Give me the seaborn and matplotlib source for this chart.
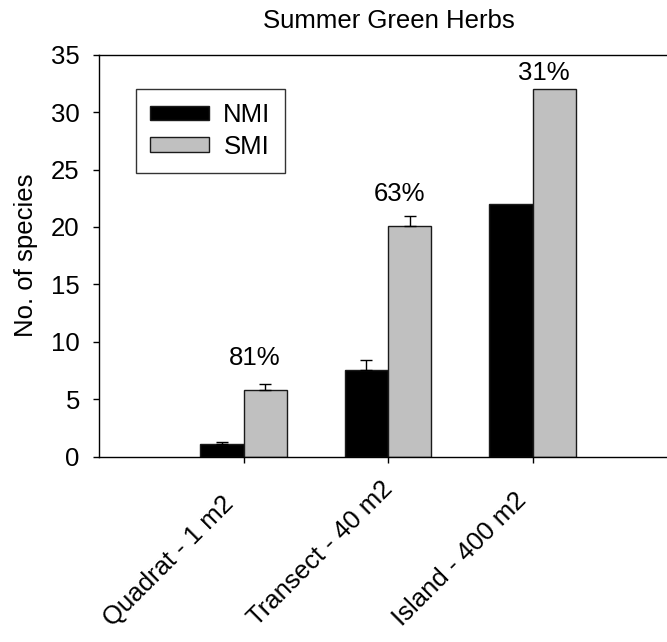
import numpy as np
import pandas as pd
import matplotlib
matplotlib.use("Agg")
import matplotlib.pyplot as plt
import matplotlib.transforms as mtrans
import seaborn as sns

# Species counts per sampling scale
scales = ["Quadrat - 1 m2", "Transect - 40 m2", "Island - 400 m2"]
groups = ["NMI", "SMI"]
nmi_species = [1.1, 7.5, 22.0]
smi_species = [5.8, 20.1, 32.0]
nmi_se = [0.2, 0.9, np.nan]
smi_se = [0.55, 0.85, np.nan]
pct_labels = ["81%", "63%", "31%"]
pct_label_y = [8.6, 22.9, 33.4]
yticks = [0, 5, 10, 15, 20, 25, 30, 35]

df = pd.DataFrame({
    "scale": scales * 2,
    "group": [groups[0]] * len(scales) + [groups[1]] * len(scales),
    "species": nmi_species + smi_species,
})

sns.set_style("ticks")
plt.rcParams["font.family"] = ["Liberation Sans", "DejaVu Sans"]
plt.rcParams.update({"text.color": "black", "axes.labelcolor": "black",
                     "xtick.color": "black", "ytick.color": "black"})
FS = 18.5

W, H = 667, 642
fig = plt.figure(figsize=(W / 100, H / 100), dpi=100)
ax = fig.add_axes([99 / W, 1 - 456.5 / H, 1 - 99 / W, (456.5 - 54.7) / H])

sns.barplot(data=df, x="scale", y="species", hue="group",
            order=scales, hue_order=groups,
            palette={"NMI": "black", "SMI": "#c0c0c0"}, saturation=1,
            width=0.6, edgecolor="#1a1a1a", linewidth=1.0,
            errorbar=None, ax=ax)

# upper-only standard error bars
for cont, errs in zip(ax.containers, [nmi_se, smi_se]):
    xs, ys, es = [], [], []
    for bar, e in zip(cont, errs):
        if np.isnan(e):
            continue
        xs.append(bar.get_x() + bar.get_width() / 2)
        ys.append(bar.get_height())
        es.append(e)
    ax.errorbar(xs, ys, yerr=[np.zeros(len(es)), es], fmt="none",
                ecolor="black", elinewidth=1.0, capsize=4.5, capthick=1.0,
                zorder=3)

# percentage labels above the SMI bars
for bar, lab, yy in zip(ax.containers[1], pct_labels, pct_label_y):
    ax.text(bar.get_x() + bar.get_width() / 2 - 0.07, yy, lab,
            ha="center", va="center", fontsize=FS, color="black")

ax.set_ylim(0, 35)
ax.set_yticks(yticks)
ax.set_xlim(-1, 2.93)
ax.set_xlabel("")
ax.set_ylabel("No. of species", fontsize=FS, color="black")
ax.yaxis.set_label_coords(-0.128, 0.5)
ax.yaxis.label.set_va("center")

for side in ["left", "bottom", "top"]:
    ax.spines[side].set_color("black")
    ax.spines[side].set_linewidth(1.0)
ax.spines["right"].set_visible(False)

ax.tick_params(axis="both", direction="out", length=4.3, width=1.0,
               color="black", labelcolor="black", labelsize=FS)
ax.tick_params(axis="y", pad=9.5)
ax.tick_params(axis="x", pad=0)

ax.set_xticks(range(len(scales)))
ax.set_xticklabels(scales)
offset = mtrans.ScaledTranslation(-1.31, -1.705, fig.dpi_scale_trans)
for lab in ax.get_xticklabels():
    lab.set_rotation(45)
    lab.set_rotation_mode("anchor")
    lab.set_ha("left")
    lab.set_va("baseline")
    lab.set_transform(ax.get_xaxis_transform() + offset)

fig.text(389 / W, 1 - 21 / H, "Summer Green Herbs", ha="center", va="center",
         fontsize=FS, color="black")

sns.move_legend(ax, "upper left", bbox_to_anchor=(136 / W, 1 - 89 / H),
                bbox_transform=fig.transFigure, title=None, frameon=True,
                fancybox=False, framealpha=1, edgecolor="#333333",
                fontsize=FS, handlelength=2.3, handleheight=0.5,
                handletextpad=0.55, borderpad=0.55, labelspacing=0.3,
                borderaxespad=0)
leg = ax.get_legend()
leg.get_frame().set_linewidth(1.0)
for t in leg.get_texts():
    t.set_color("black")

fig.savefig("out.png", dpi=100)
